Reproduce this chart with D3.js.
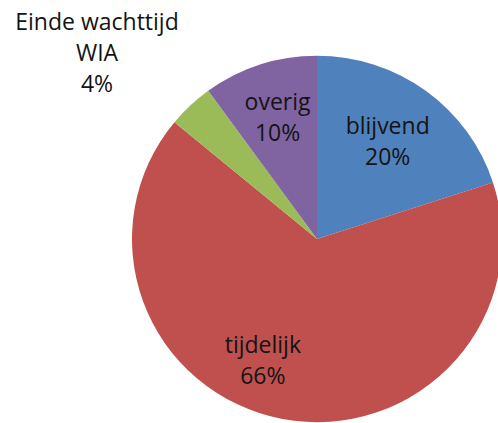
<!DOCTYPE html>
<html lang="nl">
<head>
<meta charset="UTF-8">
<title>Pie</title>
<style>
  body { margin: 0; background: #fff; overflow: hidden; }
  svg { display: block; }
  text { font-family: "Open Sans", sans-serif; font-size: 23px; fill: #141414; }
</style>
</head>
<body>
<svg id="chart" width="498" height="423"></svg>
<script src="https://cdnjs.cloudflare.com/ajax/libs/d3/7.8.5/d3.min.js"></script>
<script>
// slices in drawing order, clockwise from 12 o'clock
const categories = ["blijvend", "tijdelijk", "Einde wachttijd WIA", "overig"];
const values = [20, 66, 4, 10];
const labelLines = [["blijvend", "20%"], ["tijdelijk", "66%"], ["Einde wachttijd", "WIA", "4%"], ["overig", "10%"]];
const colors = ["#4f81bd", "#c0504d", "#9bbb59", "#8064a2"];

const svg = d3.select("#chart");
const cx = 317, cy = 239, r = 185;

const pie = d3.pie().sort(null).value(d => d.value);
const arc = d3.arc().innerRadius(0).outerRadius(r);
const data = pie(categories.map((c, i) => ({ name: c, value: values[i], lines: labelLines[i] })));

const g = svg.append("g").attr("transform", `translate(${cx},${cy}) scale(1,0.99)`);

g.selectAll("path")
  .data(data)
  .enter()
  .append("path")
  .attr("d", arc)
  .attr("fill", (d, i) => colors[i]);

// label placement: radius as fraction of r, plus a small angle nudge (Excel "best fit")
const labelPos = [
  { k: 0.65, da: 0 },
  { k: 0.72, da: 0.23 },
  { k: 1.557, da: -0.115 },
  { k: 0.69, da: 0 }
];
const lineH = 31;

const labels = svg.append("g");
data.forEach((d, i) => {
  const a = (d.startAngle + d.endAngle) / 2 + labelPos[i].da;
  const lr = r * labelPos[i].k;
  const x = cx + lr * Math.sin(a);
  const y = cy - lr * Math.cos(a);
  const n = d.data.lines.length;
  const t = labels.append("text")
    .attr("text-anchor", "middle")
    .attr("x", x)
    .attr("y", y - (n - 1) * lineH / 2 + 8);
  d.data.lines.forEach((s, j) => {
    t.append("tspan").attr("x", x).attr("dy", j ? lineH : 0).text(s);
  });
});
</script>
</body>
</html>
